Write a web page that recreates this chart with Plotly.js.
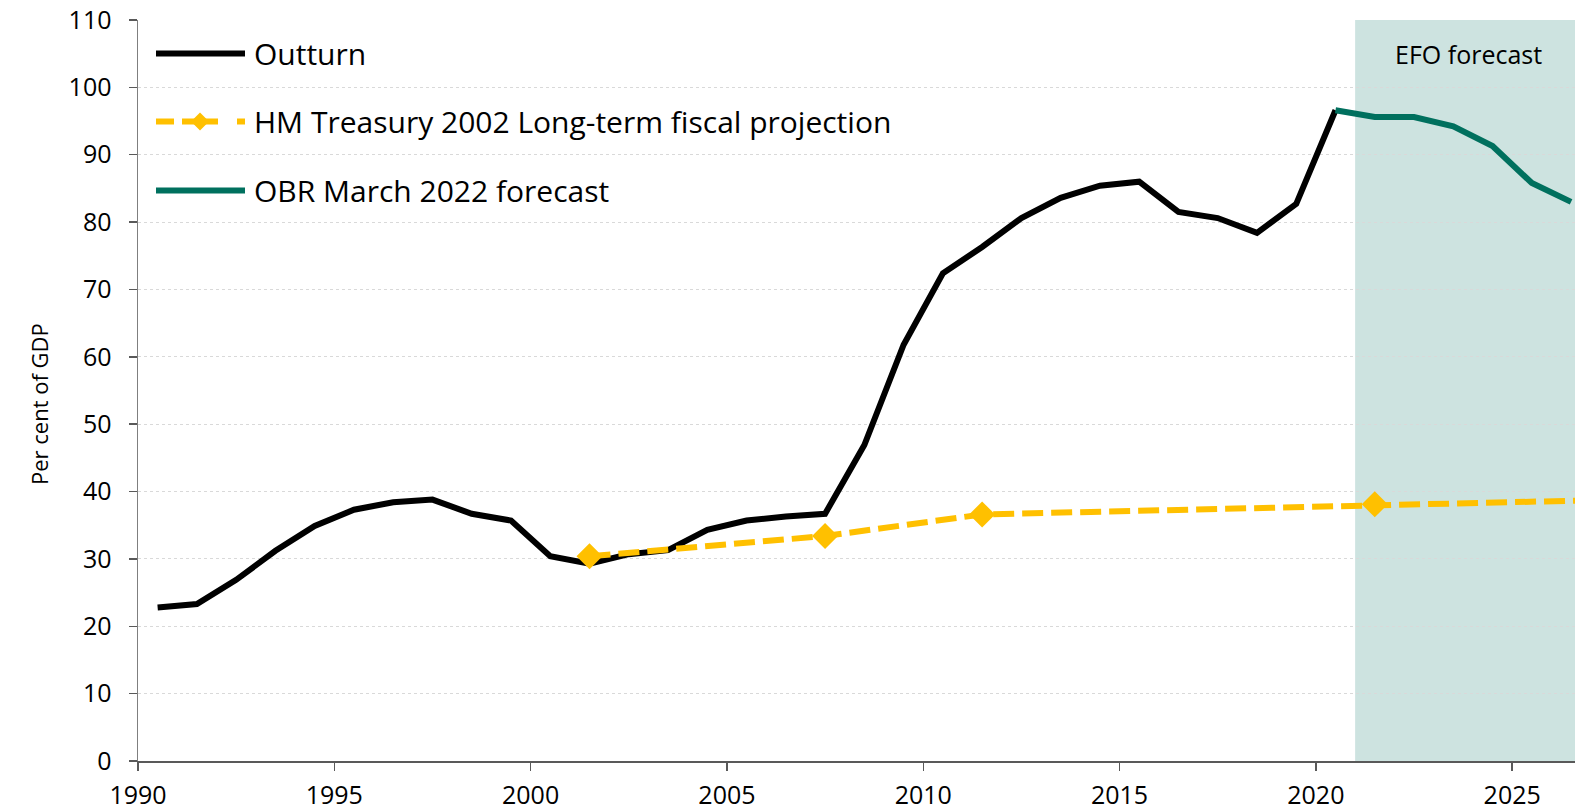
<!DOCTYPE html>
<html>
<head>
<meta charset="utf-8">
<script src="https://cdn.plot.ly/plotly-3.0.1.min.js"></script>
<style>
  html, body { margin: 0; padding: 0; background: #fff; }
  #chart { width: 1575px; height: 812px; }
</style>
</head>
<body>
<div id="chart"></div>
<script>
// ---- Data (fiscal years, plotted at mid-year) ----
const outturnYears = [1990,1991,1992,1993,1994,1995,1996,1997,1998,1999,2000,2001,2002,2003,2004,2005,2006,2007,2008,2009,2010,2011,2012,2013,2014,2015,2016,2017,2018,2019,2020];
const outturnValues = [22.8,23.3,26.9,31.2,34.9,37.3,38.4,38.8,36.7,35.7,30.4,29.3,30.7,31.3,34.3,35.7,36.3,36.7,46.9,61.8,72.4,76.3,80.6,83.6,85.4,86.0,81.5,80.6,78.4,82.7,96.6];

const hmtYears = [2001,2007,2011,2021,2031];
const hmtValues = [30.4,33.4,36.6,38.1,39.3];

const obrYears = [2020,2021,2022,2023,2024,2025,2026];
const obrValues = [96.6,95.6,95.6,94.2,91.3,85.8,83.0];

const forecastStart = 2021.0;
const xTicks = [1990,1995,2000,2005,2010,2015,2020,2025];
const yTicks = [0,10,20,30,40,50,60,70,80,90,100,110];

const seriesNames = ["Outturn","HM Treasury 2002 Long-term fiscal projection","OBR March 2022 forecast"];
const shadeLabel = "EFO forecast";
const yTitle = "Per cent of GDP";

const mid = a => a.map(v => v + 0.5);

// ---- Styles ----
const FONT = "'Open Sans', Lato, sans-serif";
const BLACK = "#000000", YELLOW = "#FFC000", GREEN = "#00705E", SHADE = "#CDE3E0";

const W = 1575, H = 812;
const M = {l: 138, r: 0, t: 20, b: 51};
const pw = W - M.l - M.r, ph = H - M.t - M.b;
const px = x => (x - M.l) / pw;           // pixel -> paper x
const py = y => (H - M.b - y) / ph;       // pixel -> paper y

const traces = [
  {x: mid(outturnYears), y: outturnValues, name: seriesNames[0], mode: "lines",
   line: {color: BLACK, width: 6}},
  {x: mid(hmtYears), y: hmtValues, name: seriesNames[1], mode: "lines+markers",
   line: {color: YELLOW, width: 6, dash: "21px,8px"},
   marker: {symbol: "diamond", size: 20, color: YELLOW}},
  {x: mid(obrYears), y: obrValues, name: seriesNames[2], mode: "lines",
   line: {color: GREEN, width: 6}}
];

// custom legend
const legY = [53.5, 121.5, 190.5];
const shapes = [
  {type: "rect", xref: "x", yref: "paper", x0: forecastStart, x1: 2030, y0: 0, y1: 1,
   fillcolor: SHADE, line: {width: 0}, layer: "below"},
  {type: "line", xref: "paper", yref: "paper", x0: px(156), x1: px(245), y0: py(legY[0]), y1: py(legY[0]),
   line: {color: BLACK, width: 6}},
  {type: "line", xref: "paper", yref: "paper", x0: px(156), x1: px(174), y0: py(legY[1]), y1: py(legY[1]),
   line: {color: YELLOW, width: 6}},
  {type: "line", xref: "paper", yref: "paper", x0: px(182), x1: px(218), y0: py(legY[1]), y1: py(legY[1]),
   line: {color: YELLOW, width: 6}},
  {type: "line", xref: "paper", yref: "paper", x0: px(237), x1: px(245), y0: py(legY[1]), y1: py(legY[1]),
   line: {color: YELLOW, width: 6}},
  {type: "path", xref: "paper", yref: "paper",
   path: `M ${px(200)} ${py(legY[1]-9)} L ${px(209)} ${py(legY[1])} L ${px(200)} ${py(legY[1]+9)} L ${px(191)} ${py(legY[1])} Z`,
   fillcolor: YELLOW, line: {width: 0}},
  {type: "line", xref: "paper", yref: "paper", x0: px(156), x1: px(245), y0: py(legY[2]), y1: py(legY[2]),
   line: {color: GREEN, width: 6}}
];

const annotations = seriesNames.map((n, i) => ({
  text: n, xref: "paper", yref: "paper", x: px(252), y: py(legY[i]),
  xanchor: "left", yanchor: "middle", showarrow: false,
  font: {family: FONT, size: 30, color: "#000"}
}));
annotations.push({
  text: shadeLabel, xref: "paper", yref: "paper", x: px(1468), y: py(54),
  xanchor: "center", yanchor: "middle", showarrow: false,
  font: {family: FONT, size: 25, color: "#000"}
});
annotations.push({
  text: yTitle, xref: "paper", yref: "paper", x: px(39), y: py(404),
  xanchor: "center", yanchor: "middle", showarrow: false, textangle: -90,
  font: {family: FONT, size: 22, color: "#000"}
});

const layout = {
  width: W, height: H,
  margin: M,
  paper_bgcolor: "#fff", plot_bgcolor: "#fff",
  showlegend: false,
  font: {family: FONT, color: "#000"},
  xaxis: {
    range: [1990, 2026.6], tickvals: xTicks, ticktext: xTicks.map(String),
    showgrid: false, zeroline: false, showline: true, linecolor: "#595959", linewidth: 1.5,
    ticks: "outside", ticklen: 8, tickcolor: "#595959", tickwidth: 1.5,
    tickfont: {family: FONT, size: 25, color: "#000"}, ticklabelstandoff: 3,
    fixedrange: true
  },
  yaxis: {
    range: [0, 110], tickvals: yTicks,
    showgrid: true, gridcolor: "#d9d9d9", griddash: "dot", gridwidth: 1,
    zeroline: false, showline: true, linecolor: "#7f7f7f", linewidth: 1.5,
    ticks: "outside", ticklen: 8, tickcolor: "#595959", tickwidth: 1.5,
    tickfont: {family: FONT, size: 25, color: "#000"}, ticklabelstandoff: 12,
    fixedrange: true
  },
  shapes: shapes,
  annotations: annotations
};

Plotly.newPlot("chart", traces, layout, {displayModeBar: false, staticPlot: true});
</script>
</body>
</html>
